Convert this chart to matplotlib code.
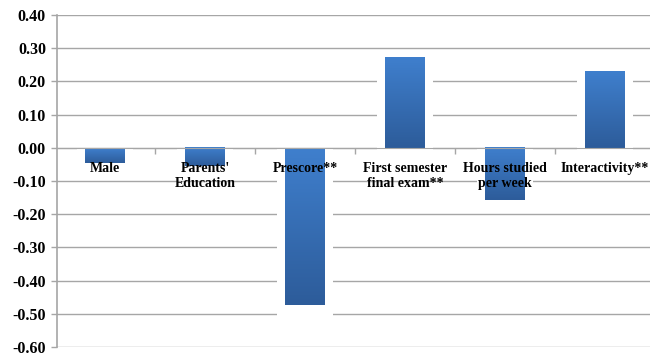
import matplotlib
matplotlib.use("Agg")
import matplotlib.pyplot as plt
import numpy as np
from matplotlib.colors import LinearSegmentedColormap

# data
categories = ["Male", "Parents'\nEducation", "Prescore**", "First semester\nfinal exam**",
              "Hours studied\nper week", "Interactivity**"]
values = [-0.045, -0.055, -0.472, 0.272, -0.158, 0.229]
y_ticks = [0.40, 0.30, 0.20, 0.10, 0.00, -0.10, -0.20, -0.30, -0.40, -0.50, -0.60]

plt.rcParams['font.family'] = ['Liberation Serif', 'DejaVu Serif']
plt.rcParams['font.weight'] = 'bold'

grid_col = '#a6a6a6'
bar_w = 0.4
grad = LinearSegmentedColormap.from_list('bar', ['#2d5c9a', '#3f7fcd'])

fig = plt.figure(figsize=(6.5, 3.54), dpi=100)
ax = fig.add_axes([57 / 650, 7 / 354, 593 / 650, 332 / 354])

x = np.arange(len(categories))

# gridlines drawn by hand so the tick labels can sit above the bars
for t in y_ticks:
    ax.axhline(t, color=grid_col, linewidth=1.0, zorder=0.5)

# white backdrop behind bars breaks the gridlines a bit
for xi, v in zip(x, values):
    lo = min(0, v) - 0.035
    hi = max(0, v)
    ax.bar(xi, hi - lo, bottom=lo, width=bar_w + 0.16, color='white', zorder=1)

# gradient-filled bars
g = np.linspace(0, 1, 100).reshape(-1, 1)
for xi, v in zip(x, values):
    lo, hi = min(0, v), max(0, v)
    ax.imshow(g, cmap=grad, aspect='auto', origin='lower',
              extent=[xi - bar_w / 2, xi + bar_w / 2, lo, hi], zorder=2)

ax.set_xlim(-0.48, 5.45)
ax.set_ylim(-0.60, 0.40)

ax.set_yticks(y_ticks)
ax.set_yticklabels([f"{t:.2f}" for t in y_ticks], fontsize=11.5, fontweight='bold')

ax.set_xticks(x)
ax.set_xticklabels(categories, fontsize=10.5, fontweight='bold', linespacing=1.05)
ax.set_xticks(x[:-1] + 0.5, minor=True)
ax.tick_params(axis='x', which='major', length=0, pad=10.5)
ax.tick_params(axis='x', which='minor', length=4, width=1, color=grid_col, direction='out')
ax.tick_params(axis='y', length=4, width=1, color=grid_col, pad=4)
ax.xaxis.set_zorder(5)
ax.yaxis.set_zorder(5)

ax.spines['bottom'].set_position(('data', 0))
ax.spines['bottom'].set_color(grid_col)
ax.spines['bottom'].set_zorder(2.5)
ax.spines['left'].set_color(grid_col)
ax.spines['left'].set_linewidth(1.2)
ax.spines['top'].set_visible(False)
ax.spines['right'].set_visible(False)

fig.savefig("out.png", dpi=100)
